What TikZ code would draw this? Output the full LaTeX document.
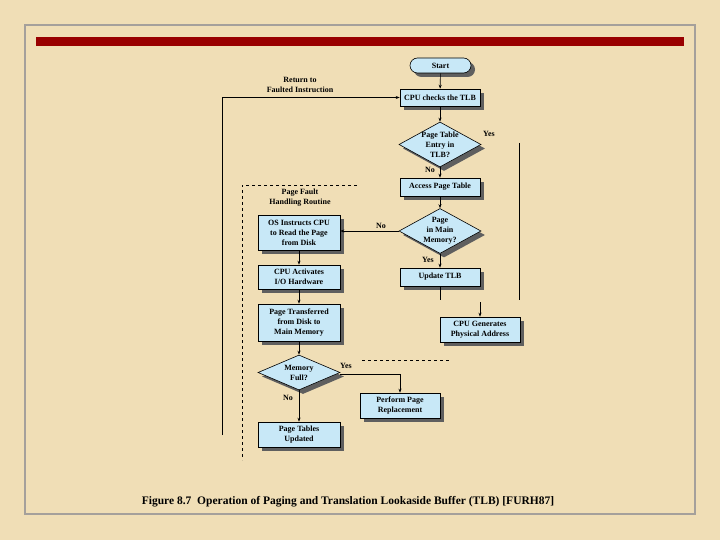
\documentclass[tikz,border=0pt]{standalone}
\usepackage{fontspec}
\setmainfont{Liberation Serif}
\usetikzlibrary{shapes.geometric,shadows,arrows.meta}
\definecolor{parch}{RGB}{240,222,182}
\definecolor{boxblue}{RGB}{200,232,247}
\definecolor{shadowgray}{RGB}{95,95,95}
\definecolor{framegray}{RGB}{165,160,155}
\definecolor{barred}{RGB}{153,0,0}
\tikzset{
  shad/.style={drop shadow={shadow xshift=4pt,shadow yshift=-4pt,fill=shadowgray,opacity=1}},
  txt/.style={font=\bfseries\fontsize{8}{10}\selectfont, align=center},
  box/.style={draw=black, line width=0.6pt, fill=boxblue, shad, txt, inner sep=1pt,
              minimum width=82pt, minimum height=18pt},
  dia/.style={diamond, draw=black, line width=0.6pt, fill=boxblue, shad, inner sep=0pt,
              minimum width=82pt, minimum height=45pt},
  lbl/.style={txt, inner sep=0pt},
  arr/.style={line width=0.6pt, -{Stealth[length=4pt,width=3pt]}},
  ln/.style={line width=0.6pt},
  dsh/.style={line width=0.8pt, dash pattern=on 3pt off 3pt}
}
\begin{document}
\begin{tikzpicture}[x=1pt,y=-1pt]
\useasboundingbox (0,0) rectangle (720,540);
\fill[parch] (0,0) rectangle (720,540);
\draw[framegray, line width=1.6pt] (25,25) rectangle (695,514);
\fill[barred] (36,37) rectangle (684,46);

% nodes
\node[box, rounded corners=7.5pt, minimum width=61pt, minimum height=15pt] (start) at (440.5,65.5) {Start};
\node[box, minimum width=80pt, minimum height=17pt] (cpu) at (440,97.5) {CPU checks the TLB};
\node[dia, label={[lbl]center:{Page Table\\Entry in\\TLB?}}] (d1) at (440,144.5) {};
\node[box, minimum width=80pt] (acc) at (440,187) {Access Page Table};
\node[dia, label={[lbl]center:{Page\\in Main\\Memory?}}] (d2) at (440,231) {};
\node[box, minimum width=80pt] (upd) at (440,277) {Update TLB};
\node[box, minimum width=80pt, minimum height=25pt] (gen) at (480,329.5) {CPU Generates\\Physical Address};

\node[box, minimum height=35pt] (os) at (299,232.5) {OS Instructs CPU\\to Read the Page\\from Disk};
\node[box, minimum height=24pt] (act) at (299,277) {CPU Activates\\I/O Hardware};
\node[box, minimum height=37pt] (pt) at (299,322.5) {Page Transferred\\from Disk to\\Main Memory};
\node[dia, minimum height=35pt, label={[lbl]center:{Memory\\Full?}}] (d3) at (299,372.5) {};
\node[box, minimum width=80pt, minimum height=25pt] (ppr) at (400,405.5) {Perform Page\\Replacement};
\node[box, minimum height=25pt] (ptu) at (299,434.5) {Page Tables\\Updated};

% labels
\node[lbl] (ret) at (300,85) {Return to\\Faulted Instruction};
\node[lbl] (pfh) at (300,198) {Page Fault\\Handling Routine};
\node[lbl] (yes1) at (489,134) {Yes};
\node[lbl] (no1) at (430,170) {No};
\node[lbl] (no2) at (381,226) {No};
\node[lbl] (yes2) at (428,260) {Yes};
\node[lbl] (yes3) at (346,366) {Yes};
\node[lbl] (no3) at (288,398) {No};

% coordinates
\coordinate (retB) at (222,435);
\coordinate (retT) at (222,97.5);
\coordinate (updE) at (440,300);
\coordinate (genS) at (480,302);
\coordinate (rT) at (519,143);
\coordinate (rB) at (519,300);
\coordinate (d3r) at (340,374);
\coordinate (pf1) at (242,185);
\coordinate (pf2) at (357,185);
\coordinate (pf3) at (242,460);
\coordinate (pd1) at (362,360);
\coordinate (pd2) at (450,360);

% connectors
\draw[arr] (start) -- (cpu);
\draw[arr] (cpu) -- (d1);
\draw[arr] (d1) -- (acc);
\draw[arr] (acc) -- (d2);
\draw[arr] (d2) -- (upd);
\draw[arr] (d2.west) -- (d2.west -| os.east);
\draw[arr] (os) -- (act);
\draw[arr] (act) -- (pt);
\draw[arr] (pt) -- (d3);
\draw[arr] (d3) -- (ptu);
\draw[arr] (d3r) -| (ppr.north);
\draw[ln] (upd.south) -- (updE);
\draw[arr] (genS) -- (gen.north);
\draw[ln] (rT) -- (rB);
\draw[arr] (retB) -- (retT) -- (cpu.west);
\draw[dsh] (pf2) -- (pf1) -- (pf3);
\draw[dsh] (pd1) -- (pd2);

% caption
\node[font=\bfseries\fontsize{11.5}{13}\selectfont, inner sep=0pt] (cap) at (348,502) {Figure 8.7\ \ Operation of Paging and Translation Lookaside Buffer (TLB) [FURH87]};
\end{tikzpicture}
\end{document}
